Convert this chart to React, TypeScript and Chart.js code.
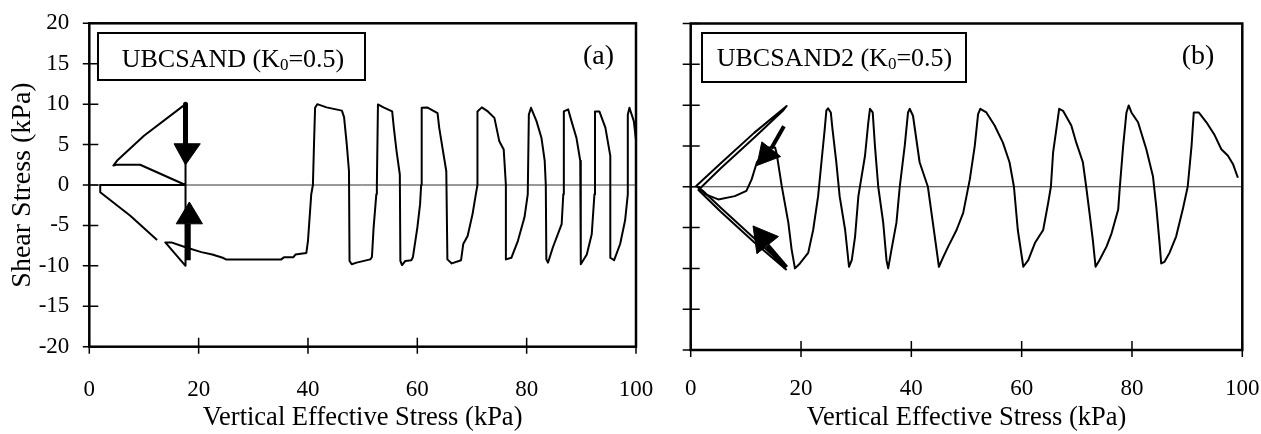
import React, { useEffect, useRef } from "react";
import { Chart, registerables } from "chart.js";

Chart.register(...registerables);

// ---------- shared axis ticks ----------
const xTicks = [0, 20, 40, 60, 80, 100];
const yTicks = [-20, -15, -10, -5, 0, 5, 10, 15, 20];
const xTitle = "Vertical Effective Stress (kPa)";
const yTitle = "Shear Stress (kPa)";

// ---------- panel (a): UBCSAND ----------
const ubcsandPath: [number, number][] = [
  [12.4, -6.8], [7.5, -3.8], [2.0, -0.9], [2.0, 0], [17.6, 0], [9.3, 2.5], [5.0, 2.5], [4.4, 2.4],
  [5.2, 3.1], [10, 6.1], [17.6, 10], [17.6, -10], [13.9, -7.1], [15.0, -7.1], [17.6, -7.7],
  [20.5, -8.3], [22.5, -8.6], [24.4, -9.0], [25.0, -9.2], [35.1, -9.2], [35.6, -8.95], [37.3, -8.95],
  [37.7, -8.6], [39.7, -8.4], [40.0, -6.9], [40.3, -4.0], [40.6, -1.15], [40.9, 0], [41.1, 5],
  [41.3, 9.55], [41.7, 10.0], [43.4, 9.6], [46.2, 9.2], [46.6, 8.4], [47.1, 5.0], [47.5, 1.7],
  [47.6, -9.4], [48.0, -9.8], [48.9, -9.6], [51.4, -9.2], [51.7, -8.9], [52.0, -5.3], [52.5, -1.15],
  [52.6, 0], [52.8, 9.96], [53.8, 9.6], [55.4, 9.1], [55.7, 7.1], [56.2, 4.2], [56.8, 1.3],
  [56.9, -9.4], [57.2, -9.9], [57.8, -9.4], [58.9, -9.3], [59.2, -8.9], [60.0, -5.3], [60.5, -2.4],
  [60.7, 0], [60.8, 9.55], [61.8, 9.6], [63.7, 8.9], [64.0, 7.1], [64.6, 4.6], [65.3, 1.7],
  [65.5, -9.2], [66.3, -9.7], [68.0, -9.3], [68.4, -7.3], [69.2, -6.3], [70.1, -3.6], [70.7, -1.15],
  [71.0, 0], [71.0, 9.1], [71.8, 9.6], [72.9, 9.1], [74.1, 8.3], [75.0, 5.4], [75.8, 4.4],
  [76.2, 0], [76.2, -9.2], [77.2, -9.0], [78.4, -6.9], [79.6, -4.0], [80.2, -1.15], [80.4, 8.7],
  [80.8, 9.55], [81.8, 7.9], [82.7, 5.85], [83.3, 3.0], [83.5, 0], [83.6, -9.2], [83.9, -9.6],
  [84.8, -7.7], [86.4, -4.85], [86.7, -1.15], [86.8, 9.1], [87.6, 9.35], [88.2, 7.9], [89.1, 5.85],
  [89.8, 3.0], [89.9, -9.8], [91.0, -8.6], [91.9, -6.1], [92.4, -1.15], [92.5, 9.1], [93.3, 9.1],
  [94.4, 7.1], [95.3, 3.6], [95.3, -9.0], [96.0, -9.3], [97.1, -7.3], [98.0, -4.4], [98.5, -1.15],
  [98.5, 8.7], [98.8, 9.55], [99.6, 7.9], [100.5, 2.6],
];
const ubcsandArrowDownShaft: [number, number][] = [[17.6, 10], [17.6, 5.1]];
const ubcsandArrowDownHead: [number, number][] = [[15.5, 5.1], [20.3, 5.1], [17.6, 2.5], [15.5, 5.1]];
const ubcsandArrowUpShaft: [number, number][] = [[18.1, -9.3], [18.1, -4.8]];
const ubcsandArrowUpHead: [number, number][] = [[15.9, -4.8], [20.7, -4.8], [18.3, -2.1], [15.9, -4.8]];

// ---------- panel (b): UBCSAND2 ----------
const ubcsand2Loop: [number, number][] = [
  [16.8, -9.6], [11.5, -6.3], [5.5, -2.6], [2.2, -0.5], [1.0, 0.1], [5.5, 2.9], [11.5, 6.6],
  [17.4, 9.9], [16.7, 9.3], [11.5, 6.0], [5.5, 2.3], [2.0, 0.0], [1.4, -0.4], [5.5, -3.1],
  [11.5, -6.8], [17.4, -10.2],
];
const ubcsand2Path: [number, number][] = [
  [1.3, 0], [2.6, -0.9], [5.0, -1.55], [8.0, -1.15], [10.1, -0.5], [11.05, 0.9], [12.0, 3.0],
  [13.8, 4.8], [15.3, 4.8], [15.6, 4.0], [16.5, 0.1], [17.7, -4.4], [18.3, -7.7], [18.9, -10.0],
  [19.8, -9.4], [21.3, -8.1], [22.2, -5.3], [23.1, -1.15], [23.7, 3.0], [24.3, 7.1], [24.6, 9.35],
  [24.9, 9.6], [25.4, 9.1], [25.7, 7.1], [26.4, 3.0], [27.0, -1.15], [28.0, -5.3], [28.7, -9.8],
  [29.2, -9.0], [29.8, -6.1], [30.4, -1.15], [31.6, 3.8], [32.2, 7.9], [32.5, 9.55], [33.0, 9.1],
  [33.4, 5.0], [34.0, 0], [34.9, -4.4], [35.5, -9.0], [35.8, -10.0], [36.4, -7.7], [37.3, -4.4],
  [37.9, 0], [38.8, 5.0], [39.4, 9.1], [39.7, 9.55], [40.3, 8.7], [41.5, 3.0], [43.0, 0],
  [43.9, -4.4], [45.0, -9.8], [45.8, -8.6], [46.7, -7.3], [48.2, -5.3], [49.4, -3.2], [50.0, -1.15],
  [50.6, 0.9], [51.5, 5.0], [52.1, 8.9], [52.5, 9.55], [53.6, 9.1], [55.1, 7.5], [56.6, 5.4],
  [57.8, 3.0], [58.6, 0], [59.3, -5.3], [60.3, -9.8], [61.2, -9.0], [62.4, -6.9], [63.9, -5.3],
  [64.8, -2.0], [65.3, 0], [65.7, 4.2], [66.3, 7.1], [66.8, 9.55], [67.5, 9.3], [69.0, 7.5],
  [69.9, 5.4], [71.1, 3.0], [71.7, 0], [72.3, -3.2], [72.9, -6.5], [73.4, -9.8], [74.1, -9.0],
  [75.4, -7.3], [76.3, -5.7], [77.5, -2.8], [77.8, 0], [78.4, 5.0], [79.0, 9.1], [79.4, 9.96],
  [79.9, 9.1], [81.1, 7.9], [82.6, 4.6], [83.8, 1.3], [84.4, -2.4], [85.0, -6.9], [85.3, -9.4],
  [85.9, -9.2], [86.8, -8.1], [88.0, -6.1], [89.2, -2.8], [90.1, 0], [90.8, 5.0], [91.2, 9.1],
  [92.1, 9.1], [93.5, 7.9], [95.0, 6.3], [96.2, 4.6], [97.4, 3.8], [98.3, 2.8], [99.2, 1.1],
];
const ubcsand2ArrowUpperShaft: [number, number][] = [[14.6, 4.7], [16.9, 7.4]];
const ubcsand2ArrowUpperHead: [number, number][] = [[12.0, 2.6], [12.9, 5.5], [16.3, 3.7], [12.0, 2.6]];
const ubcsand2ArrowLowerShaft: [number, number][] = [[13.9, -7.2], [17.3, -9.9]];
const ubcsand2ArrowLowerHead: [number, number][] = [[11.3, -4.8], [15.9, -6.1], [12.0, -8.2], [11.3, -4.8]];

const SERIF = '"Liberation Serif", "Times New Roman", serif';

const toPts = (arr: [number, number][]) => arr.map(([x, y]) => ({ x, y }));

const lineDs = (arr: [number, number][], width: number) => ({
  data: toPts(arr),
  borderColor: "#000",
  backgroundColor: "#000",
  borderWidth: width,
  pointRadius: 0,
  tension: 0,
  fill: false,
  borderJoinStyle: "round" as const,
});
const headDs = (arr: [number, number][]) => ({
  data: toPts(arr),
  borderColor: "#000",
  backgroundColor: "#000",
  borderWidth: 1,
  pointRadius: 0,
  tension: 0,
  fill: "shape" as const,
});

const decoPlugin = {
  id: "deco",
  beforeDatasetsDraw(chart: any) {
    const { ctx, chartArea, scales } = chart;
    const yy = scales.y.getPixelForValue(0);
    ctx.save();
    ctx.strokeStyle = "#333";
    ctx.lineWidth = 1;
    ctx.beginPath();
    ctx.moveTo(chartArea.left, yy);
    ctx.lineTo(chartArea.right, yy);
    ctx.stroke();
    ctx.restore();
  },
  afterDraw(chart: any, _args: any, o: any) {
    const { ctx, chartArea, scales } = chart;
    const { left, right, top, bottom } = chartArea;
    ctx.save();
    ctx.strokeStyle = "#000";
    // tick marks crossing the axes
    ctx.lineWidth = 1.5;
    ctx.beginPath();
    for (const v of yTicks) {
      const p = scales.y.getPixelForValue(v);
      ctx.moveTo(left - o.yOut, p);
      ctx.lineTo(left + 9, p);
    }
    for (const v of xTicks) {
      const p = scales.x.getPixelForValue(v);
      ctx.moveTo(p, bottom - 9);
      ctx.lineTo(p, bottom + 7);
    }
    ctx.stroke();
    // frame
    ctx.lineWidth = 2.5;
    ctx.strokeRect(left, top, right - left, bottom - top);
    // label box
    const b = o.box;
    ctx.fillStyle = "#fff";
    ctx.fillRect(b.x, b.y, b.w, b.h);
    ctx.lineWidth = 2;
    ctx.strokeRect(b.x, b.y, b.w, b.h);
    ctx.fillStyle = "#000";
    ctx.textBaseline = "alphabetic";
    ctx.textAlign = "left";
    ctx.font = `26px ${SERIF}`;
    let tx = b.tx;
    ctx.fillText(o.name + " (K", tx, b.ty);
    tx += ctx.measureText(o.name + " (K").width;
    ctx.font = `17px ${SERIF}`;
    ctx.fillText("0", tx, b.ty + 3);
    tx += ctx.measureText("0").width;
    ctx.font = `26px ${SERIF}`;
    ctx.fillText("=0.5)", tx, b.ty);
    // panel letter
    ctx.font = `28px ${SERIF}`;
    ctx.fillText(o.letter, o.lx, o.ly);
    ctx.restore();
  },
};

type PanelCfg = {
  datasets: any[];
  padTop: number;
  padRight: number;
  yW: number;
  xH: number;
  xPad: number;
  showY: boolean;
  deco: any;
};

function makeChart(canvas: HTMLCanvasElement, c: PanelCfg) {
  const tickFont = { family: SERIF, size: 23 };
  return new Chart(canvas, {
    type: "line",
    data: { datasets: c.datasets },
    options: {
      animation: false,
      responsive: false,
      maintainAspectRatio: false,
      layout: { padding: { top: c.padTop, right: c.padRight, left: 0, bottom: 0 } },
      plugins: {
        legend: { display: false },
        tooltip: { enabled: false },
        deco: c.deco,
      } as any,
      scales: {
        x: {
          type: "linear",
          min: 0,
          max: 100,
          afterBuildTicks: (s: any) => {
            s.ticks = xTicks.map((v) => ({ value: v }));
          },
          afterFit: (s: any) => {
            s.height = c.xH;
            s.paddingLeft = 0;
            s.paddingRight = 0;
          },
          grid: { display: false, drawTicks: false },
          border: { display: false },
          ticks: { font: tickFont, color: "#000", padding: c.xPad, maxRotation: 0, autoSkip: false },
          title: {
            display: true,
            text: xTitle,
            font: { family: SERIF, size: 26.5 },
            color: "#000",
            padding: { top: 0, bottom: 0 },
          },
        },
        y: {
          type: "linear",
          min: -20,
          max: 20,
          afterBuildTicks: (s: any) => {
            s.ticks = yTicks.map((v) => ({ value: v }));
          },
          afterFit: (s: any) => {
            s.width = c.yW;
            s.paddingTop = 0;
            s.paddingBottom = 0;
          },
          grid: { display: false, drawTicks: false },
          border: { display: false },
          ticks: { display: c.showY, font: tickFont, color: "#000", padding: 20, autoSkip: false },
          title: {
            display: c.showY,
            text: yTitle,
            font: { family: SERIF, size: 28 },
            color: "#000",
            padding: { top: 6, bottom: 0 },
          },
        },
      },
    } as any,
    plugins: [decoPlugin as any],
  });
}

export default function App() {
  const leftRef = useRef<HTMLCanvasElement>(null);
  const rightRef = useRef<HTMLCanvasElement>(null);

  useEffect(() => {
    const left = makeChart(leftRef.current!, {
      datasets: [
        lineDs(ubcsandPath, 2),
        lineDs(ubcsandArrowDownShaft, 5),
        headDs(ubcsandArrowDownHead),
        lineDs(ubcsandArrowUpShaft, 5),
        headDs(ubcsandArrowUpHead),
      ],
      padTop: 23.3,
      padRight: 24,
      yW: 89.3,
      xH: 87.3,
      xPad: 29,
      showY: true,
      deco: {
        yOut: 6.5,
        name: "UBCSAND",
        box: { x: 98, y: 33, w: 267, h: 47, tx: 121.7, ty: 66.5 },
        letter: "(a)",
        lx: 583,
        ly: 63.5,
      },
    });
    const right = makeChart(rightRef.current!, {
      datasets: [
        lineDs(ubcsand2Loop, 2),
        lineDs(ubcsand2Path, 2),
        lineDs(ubcsand2ArrowUpperShaft, 4),
        headDs(ubcsand2ArrowUpperHead),
        lineDs(ubcsand2ArrowLowerShaft, 5),
        headDs(ubcsand2ArrowLowerHead),
      ],
      padTop: 23.5,
      padRight: 18.7,
      yW: 30.7,
      xH: 84,
      xPad: 25,
      showY: false,
      deco: {
        yOut: 8,
        name: "UBCSAND2",
        box: { x: 42, y: 33, w: 264, h: 49, tx: 56.7, ty: 66 },
        letter: "(b)",
        lx: 521.7,
        ly: 63.5,
      },
    });
    return () => {
      left.destroy();
      right.destroy();
    };
  }, []);

  return (
    <div style={{ position: "absolute", left: 0, top: 0, width: 1261, height: 434, background: "#fff" }}>
      <canvas ref={leftRef} width={660} height={434} style={{ position: "absolute", left: 0, top: 0, width: 660, height: 434 }} />
      <canvas ref={rightRef} width={601} height={434} style={{ position: "absolute", left: 660, top: 0, width: 601, height: 434 }} />
    </div>
  );
}
